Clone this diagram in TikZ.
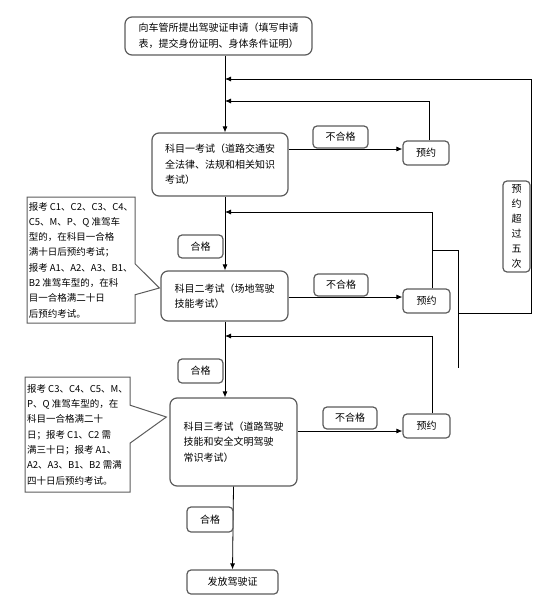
\documentclass[tikz,border=0pt]{standalone}
\usepackage{fontspec}
\setmainfont{Noto Sans CJK SC}
\usetikzlibrary{positioning, arrows.meta, calc, shapes.callouts}
\definecolor{clrborder}{HTML}{5C5C5C}
\definecolor{clrline}{HTML}{000000}
\definecolor{clrtext}{HTML}{000000}
\definecolor{clrfill}{HTML}{FFFFFF}

\begin{document}
\begin{tikzpicture}[
    x=1pt, y=-1pt,
    >={Latex[length=6pt,width=5pt]},
    every node/.style={font=\fontsize{10}{15.5}\selectfont, text=clrtext},
    block/.style={draw=clrborder, fill=clrfill, rounded corners=7pt, line width=1.2pt,
                  align=left, inner sep=0pt},
    tag/.style={draw=clrborder, fill=clrfill, rounded corners=4pt, line width=1.2pt,
                inner sep=0pt},
    note/.style={rectangle callout, draw=clrborder, fill=clrfill, line width=1pt,
                 align=left, inner sep=0pt, font=\fontsize{9.5}{15.3}\selectfont},
    arrow/.style={->, color=clrline, line width=0.8pt},
    wire/.style={color=clrline, line width=0.8pt},
]
\useasboundingbox (0,0) rectangle (549,602);
\coordinate (sp) at (225,0);
\coordinate (up) at (432,0);
\coordinate (r_1) at (0,149);
\coordinate (r_2) at (0,297);
\coordinate (r_3) at (0,431);
\coordinate (j_0) at (225,79);
\coordinate (j_1) at (225,101);
\coordinate (j_2) at (225,212);
\coordinate (j_3) at (225,336);
\coordinate (bus_a) at (432,250);
\coordinate (bus_c) at (458,368);
\coordinate (bus_d) at (458,313);
\coordinate (bus_e) at (531,313);
\node[block, minimum width=187, minimum height=38] (n_1) at (218.5,36) {向车管所提出驾驶证申请（填写申请\\表，提交身份证明、身体条件证明）};
\node[block, minimum width=136, minimum height=63] (n_2) at (220,164.5) {科目一考试（道路交通安\\全法律、法规和相关知识\\考试）};
\node[tag, minimum width=46, minimum height=24] (n_3) at (426,153) {预约};
\node[block, minimum width=127, minimum height=50] (n_4) at (224.5,296) {科目二考试（场地驾驶\\技能考试）};
\node[tag, minimum width=47, minimum height=24] (n_5) at (426.5,301) {预约};
\node[block, minimum width=127, minimum height=88] (n_6) at (233.5,442) {科目三考试（道路驾驶\\技能和安全文明驾驶\\常识考试）};
\node[tag, minimum width=47, minimum height=24] (n_7) at (426.5,426) {预约};
\node[tag, minimum width=91, minimum height=24] (n_8) at (232.5,582) {发放驾驶证};
\draw[arrow] (n_1.south -| sp) -- (n_2.north -| sp);
\draw[arrow] (n_2.south -| sp) -- (n_4.north -| sp);
\draw[arrow] (n_4.south -| sp) -- (n_6.north -| sp);
\draw[arrow] (n_6.south) -- (n_8.north);
\draw[arrow] (n_2.east |- r_1) -- (n_3.west |- r_1);
\draw[arrow] (n_4.east |- r_2) -- (n_5.west |- r_2);
\draw[arrow] (n_6.east |- r_3) -- (n_7.west |- r_3);
\draw[arrow] ($(n_3.north)+(3,0)$) |- (j_1);
\draw[arrow] (n_5.north -| up) |- (j_2);
\draw[arrow] (n_7.north -| up) |- (j_3);
\draw[wire] (bus_a) -| (bus_c);
\draw[arrow] (bus_d) -- (bus_e) |- (j_0);
\node[tag, minimum width=55, minimum height=22] (t_1) at (340.5,137) {不合格};
\node[tag, minimum width=54, minimum height=22] (t_2) at (341,285) {不合格};
\node[tag, minimum width=54, minimum height=22] (t_3) at (350,418) {不合格};
\node[tag, minimum width=45, minimum height=23] (t_4) at (200.5,246.5) {合格};
\node[tag, minimum width=45, minimum height=24] (t_5) at (200.5,371) {合格};
\node[tag, minimum width=46, minimum height=25] (t_6) at (210,519.5) {合格};
\node[tag, minimum width=27, minimum height=91, align=center, font=\fontsize{10}{15}\selectfont] (t_7) at (516.5,226.5) {预\\约\\超\\过\\五\\次};
\node[note, minimum width=108, minimum height=126, callout absolute pointer={($(n_4.west)+(-1,-8)$)}, callout pointer width=31] (c_1) at (81,260) {报考 C1、C2、C3、C4、\\C5、M、P、Q 准驾车\\型的，在科目一合格\\满十日后预约考试；\\报考 A1、A2、A3、B1、\\B2 准驾车型的，在科\\目一合格满二十日\\后预约考试。};
\node[note, minimum width=105, minimum height=115, callout absolute pointer={($(n_6.west)+(-3,-25)$)}, callout pointer width=38] (c_2) at (77.5,434.5) {报考 C3、C4、C5、M、\\P、Q 准驾车型的，在\\科目一合格满二十\\日；报考 C1、C2 需\\满三十日；报考 A1、\\A2、A3、B1、B2 需满\\四十日后预约考试。};
\end{tikzpicture}
\end{document}
